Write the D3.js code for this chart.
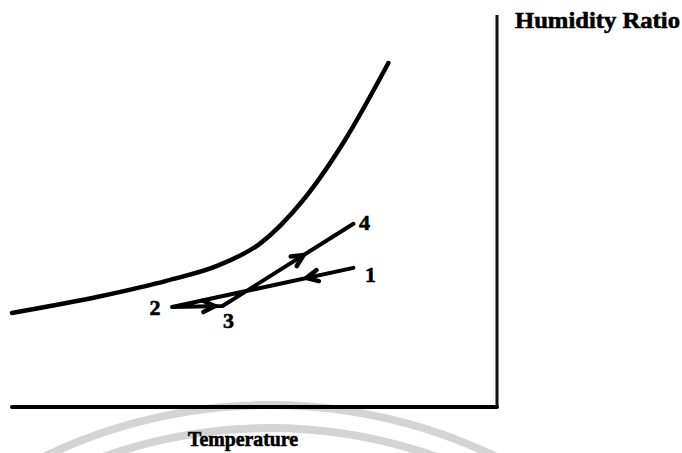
<!DOCTYPE html>
<html>
<head>
<meta charset="utf-8">
<script src="https://cdn.jsdelivr.net/npm/d3@7/dist/d3.min.js"></script>
<style>
  html, body { margin: 0; padding: 0; background: #fff; }
  svg { display: block; }
  text { font-family: "Liberation Serif", "Times New Roman", serif; font-weight: bold; fill: #000; }
</style>
</head>
<body>
<svg id="chart" width="682" height="453"></svg>
<script>
// Saturation curve (temperature, humidity ratio) – arbitrary units
const satT = [0, 9.1, 16.0, 21.4, 25.6, 30.0, 34.3, 38.8];
const satW = [9.6, 11.3, 12.9, 14.5, 16.7, 21.1, 27.2, 35.1];

// Process state points 1 -> 2 -> 3 -> 4
const stateLabels = ["1", "2", "3", "4"];
const stateT = [35.2, 16.5, 21.7, 35.2];
const stateW = [14.2, 10.2, 10.3, 18.7];

// Fraction along each process segment where the arrow head sits
const arrowPos = [0.26, 0.85, 0.62];

const xTitle = "Temperature";
const yTitle = "Humidity Ratio";

const svg = d3.select("#chart");
const x = d3.scaleLinear().domain([0, 50]).range([12, 497]);
const y = d3.scaleLinear().domain([0, 40]).range([407, 15]);

// faint watermark arcs below the axis
const wm = svg.append("g");
[520, 497].forEach(r => {
  wm.append("path")
    .attr("transform", "translate(270,925)")
    .attr("d", d3.arc()({innerRadius: r - 4, outerRadius: r + 4, startAngle: -0.6, endAngle: 0.6}))
    .attr("fill", "#d4d4d4");
});

// axes (no ticks)
svg.append("line")
  .attr("x1", x(0)).attr("x2", x(50)).attr("y1", y(0)).attr("y2", y(0))
  .attr("stroke", "#000").attr("stroke-width", 4).attr("stroke-linecap", "round");
svg.append("line")
  .attr("x1", x(50)).attr("x2", x(50)).attr("y1", y(0)).attr("y2", y(40))
  .attr("stroke", "#111").attr("stroke-width", 3);

// saturation curve
const satData = satT.map((t, i) => [t, satW[i]]);
svg.append("path")
  .datum(satData)
  .attr("fill", "none").attr("stroke", "#000").attr("stroke-width", 4.5)
  .attr("stroke-linecap", "round")
  .attr("d", d3.line().x(d => x(d[0])).y(d => y(d[1])).curve(d3.curveMonotoneX));

// process lines
const pts = stateT.map((t, i) => ({ t, w: stateW[i], label: stateLabels[i] }));
svg.append("path")
  .datum(pts)
  .attr("fill", "none").attr("stroke", "#000").attr("stroke-width", 4)
  .attr("stroke-linecap", "round").attr("stroke-linejoin", "round")
  .attr("d", d3.line().x(d => x(d.t)).y(d => y(d.w)));

// arrow heads (chevrons)
for (let i = 0; i < pts.length - 1; i++) {
  const a = pts[i], b = pts[i + 1];
  const ax = x(a.t), ay = y(a.w), bx = x(b.t), by = y(b.w);
  const f = arrowPos[i];
  const tx = ax + (bx - ax) * f, ty = ay + (by - ay) * f;
  const ang = Math.atan2(by - ay, bx - ax);
  const L = 13, spread = 0.45;
  const p1 = [tx - L * Math.cos(ang - spread), ty - L * Math.sin(ang - spread)];
  const p2 = [tx - L * Math.cos(ang + spread), ty - L * Math.sin(ang + spread)];
  svg.append("path")
    .attr("d", `M${p1[0]},${p1[1]}L${tx},${ty}L${p2[0]},${p2[1]}`)
    .attr("fill", "none").attr("stroke", "#000").attr("stroke-width", 4.5)
    .attr("stroke-linecap", "round").attr("stroke-linejoin", "miter");
}

// state labels
const labelOff = { "1": [17, 14], "2": [-17, 8], "3": [6, 22], "4": [11, 6] };
svg.selectAll("text.state")
  .data(pts).enter().append("text")
  .attr("class", "state")
  .attr("x", d => x(d.t) + labelOff[d.label][0])
  .attr("y", d => y(d.w) + labelOff[d.label][1])
  .attr("text-anchor", "middle")
  .attr("font-size", 22)
  .attr("stroke", "#000").attr("stroke-width", 0.6)
  .text(d => d.label);

// axis titles
svg.append("text")
  .attr("x", 515).attr("y", 28)
  .attr("font-size", 24)
  .attr("stroke", "#000").attr("stroke-width", 0.6)
  .attr("textLength", 165).attr("lengthAdjust", "spacingAndGlyphs")
  .text(yTitle);
svg.append("text")
  .attr("x", 188).attr("y", 446)
  .attr("font-size", 21)
  .attr("stroke", "#000").attr("stroke-width", 0.6)
  .attr("textLength", 110).attr("lengthAdjust", "spacingAndGlyphs")
  .text(xTitle);
</script>
</body>
</html>
